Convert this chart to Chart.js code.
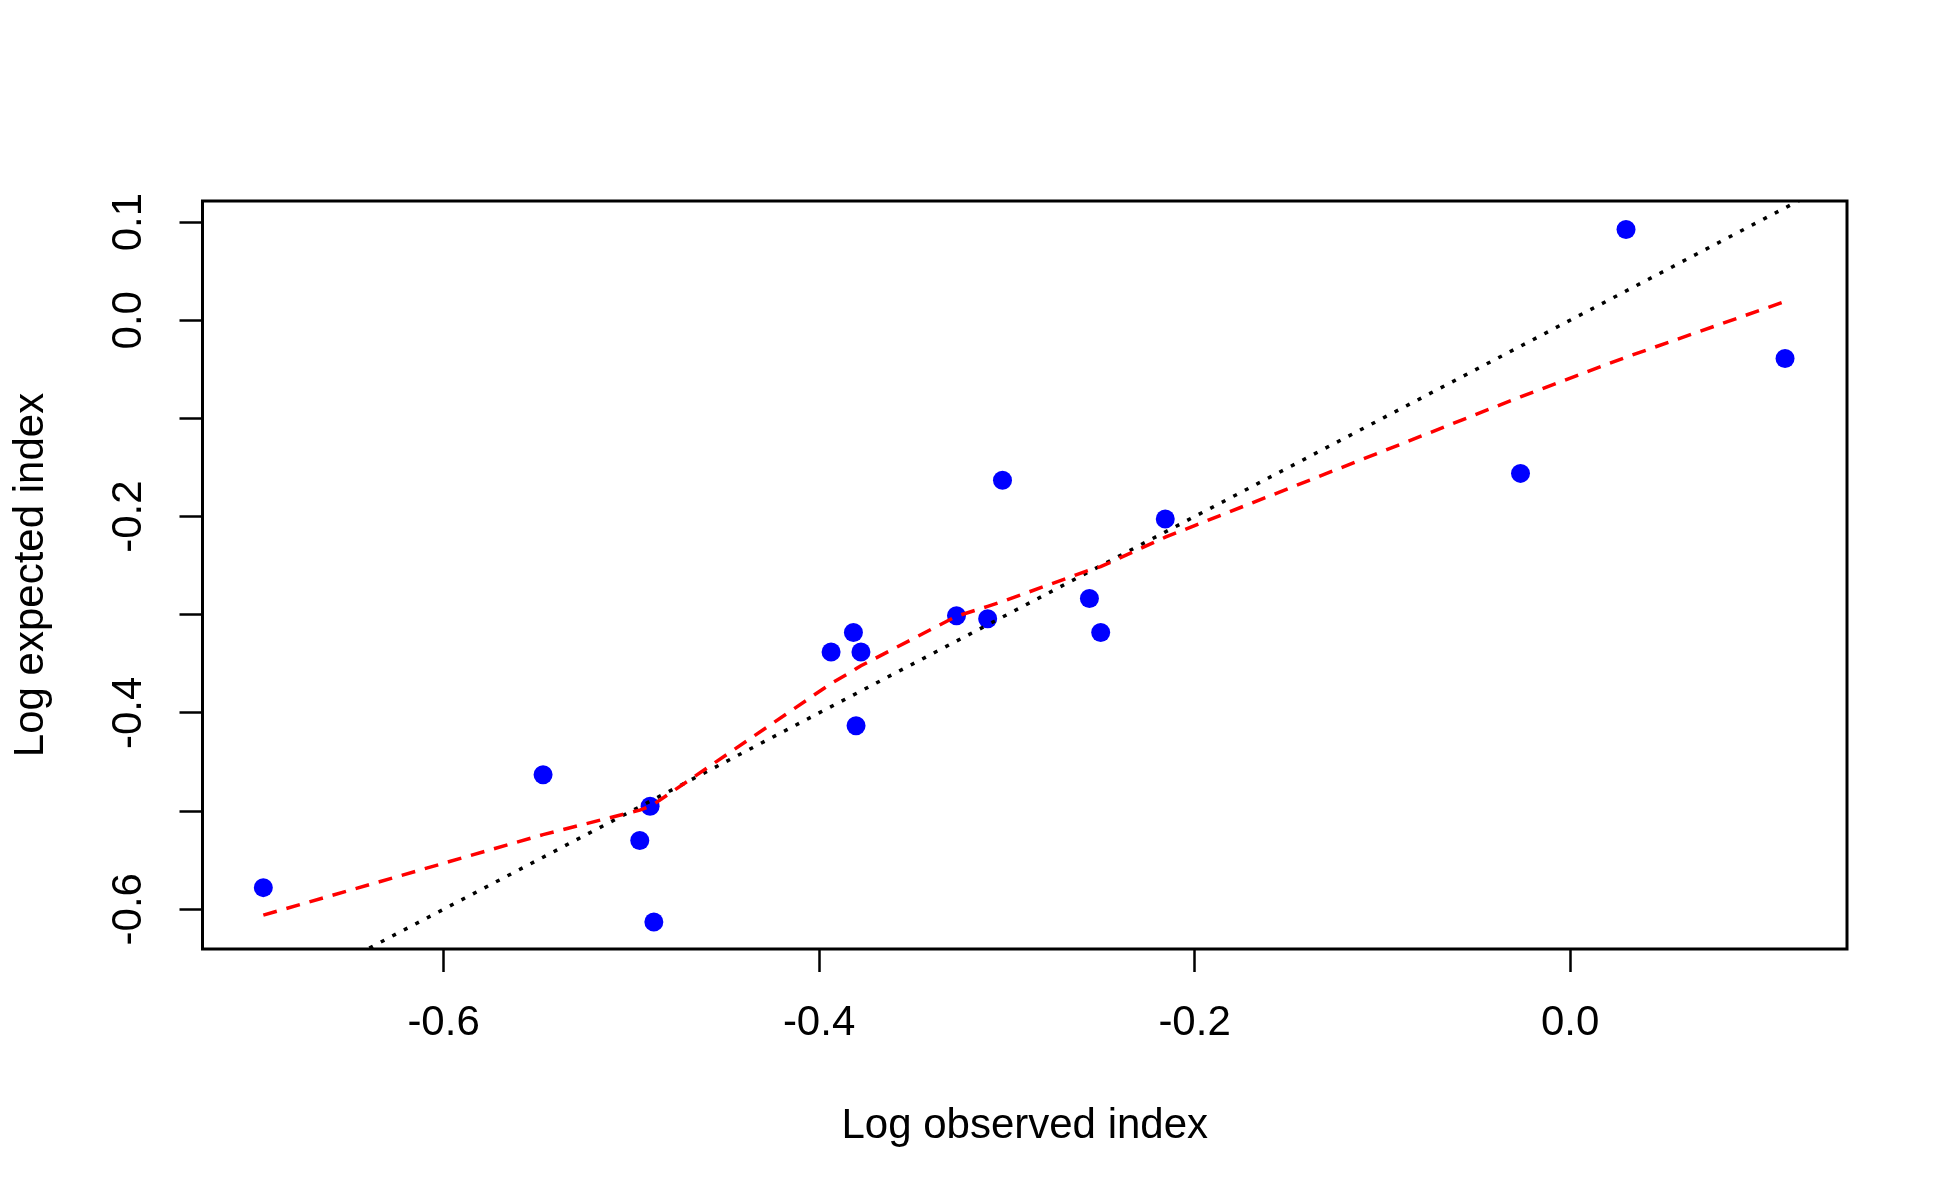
<!DOCTYPE html>
<html>
<head>
<meta charset="utf-8">
<script src="https://cdn.jsdelivr.net/npm/chart.js@4.4.1/dist/chart.umd.min.js"></script>
<style>
  html, body { margin: 0; padding: 0; background: #ffffff; }
  canvas { display: block; }
</style>
</head>
<body>
<canvas id="chart" width="1950" height="1200"></canvas>
<script>
// beobachtete / erwartete Werte (log)
const obsX = [-0.696, -0.547, -0.490, -0.4955, -0.488, -0.3936, -0.3817, -0.3777, -0.3803,
              -0.3268, -0.3102, -0.3023, -0.2560, -0.2500, -0.2156, -0.0264, 0.0298, 0.1145];
const expY = [-0.578, -0.463, -0.495, -0.530, -0.613, -0.338, -0.318, -0.338, -0.413,
              -0.301, -0.304, -0.163, -0.2835, -0.318, -0.2025, -0.156, 0.0924, -0.039];

// geglaettete Kurve (lowess), an den sortierten x-Werten
const smoothX = [-0.696, -0.547, -0.4955, -0.490, -0.488, -0.3936, -0.3817, -0.3803, -0.3777,
                 -0.3268, -0.3102, -0.3023, -0.2560, -0.2500, -0.2156, -0.0264, 0.0298, 0.1145];
const smoothY = [-0.606, -0.524, -0.499, -0.495, -0.493, -0.370, -0.357, -0.355, -0.352,
                 -0.3015, -0.2915, -0.2865, -0.2545, -0.251, -0.221, -0.078, -0.0376, 0.0191];

// Winkelhalbierende y = x
const diagX = [-0.75, 0.16];

const xTicks = [-0.6, -0.4, -0.2, 0.0];
const yTicks = [-0.6, -0.5, -0.4, -0.3, -0.2, -0.1, 0.0, 0.1];
const yLabelTicks = [-0.6, -0.4, -0.2, 0.0, 0.1];

const schrift = '"Liberation Sans", Arial, sans-serif';

const punkte = obsX.map((x, i) => ({ x: x, y: expY[i] }));
const kurve = smoothX.map((x, i) => ({ x: x, y: smoothY[i] }));
const diagonale = diagX.map((x) => ({ x: x, y: x }));

// Rahmen und gedrehte y-Beschriftung wie in R
const rahmenPlugin = {
    id: "rahmen",
    afterDraw(chart) {
        const { ctx, chartArea, scales } = chart;
        ctx.save();
        ctx.strokeStyle = "#000000";
        ctx.lineWidth = 3;
        ctx.strokeRect(chartArea.left, chartArea.top,
            chartArea.right - chartArea.left, chartArea.bottom - chartArea.top);

        ctx.fillStyle = "#000000";
        ctx.font = "42px " + schrift;
        ctx.textAlign = "center";
        ctx.textBaseline = "middle";
        yLabelTicks.forEach((v) => {
            const y = scales.y.getPixelForValue(v);
            ctx.save();
            ctx.translate(129, y);
            ctx.rotate(-Math.PI / 2);
            ctx.fillText(v.toFixed(1), 0, 0);
            ctx.restore();
        });
        ctx.restore();
    },
};

const ctx = document.getElementById("chart").getContext("2d");

const myChart = new Chart(ctx, {
    data: {
        datasets: [
            {
                type: "line",
                label: "lowess",
                data: kurve,
                borderColor: "#ff0000",
                borderWidth: 3.5,
                borderDash: [14, 10],
                pointRadius: 0,
                fill: false,
                tension: 0,
                order: 1,
            },
            {
                type: "line",
                label: "y = x",
                data: diagonale,
                borderColor: "#000000",
                borderWidth: 3.5,
                borderDash: [4, 9],
                pointRadius: 0,
                fill: false,
                tension: 0,
                order: 2,
            },
            {
                type: "scatter",
                label: "Index",
                data: punkte,
                backgroundColor: "#0000ff",
                borderWidth: 0,
                pointRadius: 9.5,
                order: 3,
            },
        ],
    },
    options: {
        responsive: false,
        animation: false,
        devicePixelRatio: 1,
        layout: {
            padding: { top: 201, right: 103, left: 0, bottom: 0 },
        },
        plugins: {
            legend: { display: false },
            tooltip: { enabled: false },
        },
        scales: {
            x: {
                type: "linear",
                min: -0.7284,
                max: 0.1475,
                afterBuildTicks: (scale) => {
                    scale.ticks = xTicks.map((v) => ({ value: v }));
                },
                afterFit: (scale) => {
                    scale.height = 251;
                },
                ticks: {
                    callback: (v) => Number(v).toFixed(1),
                    color: "#000000",
                    font: { family: schrift, size: 42 },
                    padding: 26,
                    maxRotation: 0,
                    autoSkip: false,
                },
                grid: {
                    drawOnChartArea: false,
                    tickLength: 23,
                    tickWidth: 2.5,
                    color: "#000000",
                },
                border: { display: false },
                title: {
                    display: true,
                    text: "Log observed index",
                    color: "#000000",
                    font: { family: schrift, size: 42 },
                    padding: { top: 0, bottom: 48.5 },
                },
            },
            y: {
                type: "linear",
                min: -0.6405,
                max: 0.1215,
                afterBuildTicks: (scale) => {
                    scale.ticks = yTicks.map((v) => ({ value: v }));
                },
                afterFit: (scale) => {
                    scale.width = 202.5;
                },
                ticks: { display: false },
                grid: {
                    drawOnChartArea: false,
                    tickLength: 23,
                    tickWidth: 2.5,
                    color: "#000000",
                },
                border: { display: false },
                title: {
                    display: true,
                    text: "Log expected index",
                    color: "#000000",
                    font: { family: schrift, size: 42 },
                    padding: { top: 6, bottom: 0 },
                },
            },
        },
    },
    plugins: [rahmenPlugin],
});
</script>
</body>
</html>
